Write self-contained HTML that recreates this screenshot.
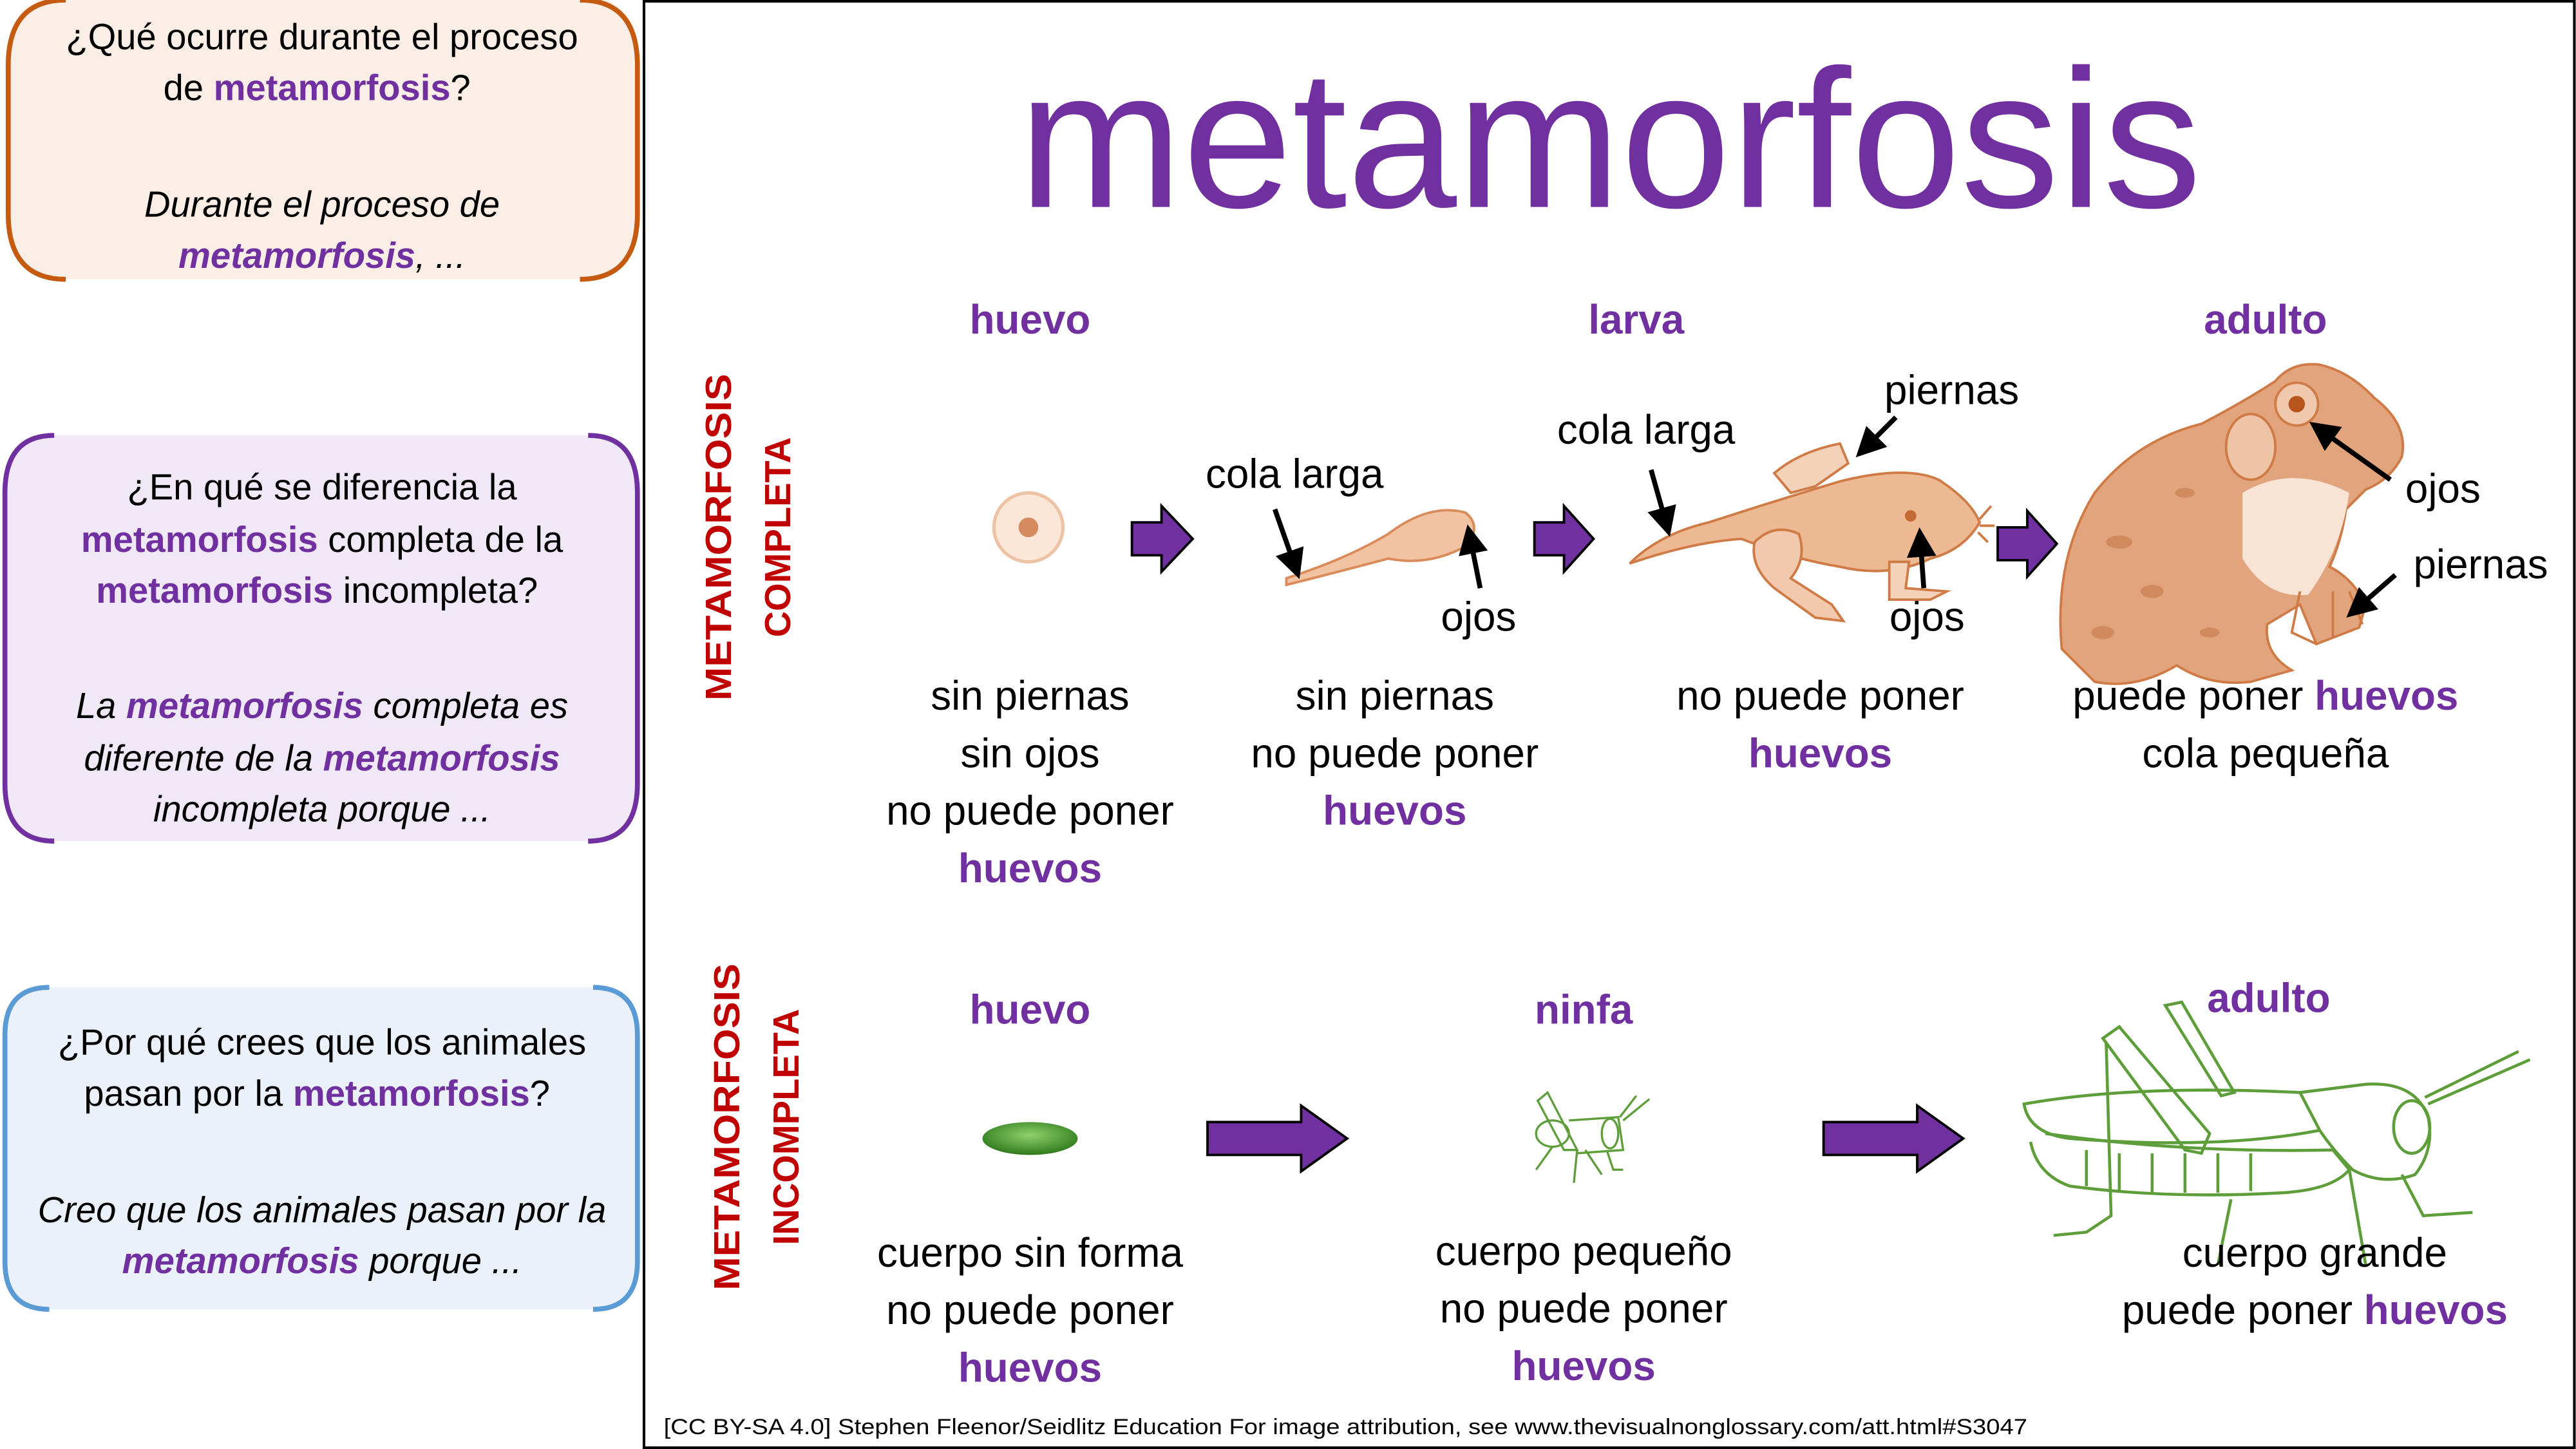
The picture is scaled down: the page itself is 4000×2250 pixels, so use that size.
<!DOCTYPE html>
<html><head><meta charset="utf-8">
<style>
html,body{margin:0;padding:0;background:#fff;}
svg{display:block;}
text{font-family:"Liberation Sans",sans-serif;}
.p{fill:#7030A0;font-weight:bold;}
</style></head>
<body>
<svg width="4000" height="2250" viewBox="0 0 1568 882" preserveAspectRatio="none" xmlns="http://www.w3.org/2000/svg">
<defs>
<marker id="ah" markerWidth="6" markerHeight="6" refX="3" refY="3" orient="auto" markerUnits="strokeWidth">
<path d="M0,0 L6,3 L0,6 z" fill="#000"/></marker>
<radialGradient id="eg" cx="50%" cy="40%" r="60%"><stop offset="0" stop-color="#8fd16a"/><stop offset="1" stop-color="#2f7a1e"/></radialGradient>
</defs>
<!-- left boxes -->
<rect x="5" y="-2" width="383" height="172" rx="30" fill="#FBEEE6"/>
<path d="M40,0 Q5,0 5,40 L5,130 Q5,170 40,170 M353,0 Q388,0 388,40 L388,130 Q388,170 353,170" fill="none" stroke="#C55A11" stroke-width="3"/>
<text font-size="22" text-anchor="middle"><tspan x="196" y="30">¿Qué ocurre durante el proceso</tspan><tspan x="196" y="61">de <tspan class="p">metamorfosis</tspan>?</tspan>
<tspan x="196" y="132" font-style="italic">Durante el proceso de</tspan><tspan x="196" y="163" font-style="italic"><tspan class="p">metamorfosis</tspan>, ...</tspan></text>

<rect x="3" y="265" width="385" height="247" rx="30" fill="#F0E8F6"/>
<path d="M33,265 Q3,265 3,300 L3,477 Q3,512 33,512 M358,265 Q388,265 388,300 L388,477 Q388,512 358,512" fill="none" stroke="#7030A0" stroke-width="3"/>
<text font-size="22" text-anchor="middle"><tspan x="196" y="304">¿En qué se diferencia la</tspan><tspan x="196" y="336"><tspan class="p">metamorfosis</tspan> completa de la</tspan><tspan x="196" y="367"><tspan class="p">metamorfosis</tspan> incompleta?</tspan>
<tspan x="196" y="437" font-style="italic">La <tspan class="p">metamorfosis</tspan> completa es</tspan><tspan x="196" y="469" font-style="italic">diferente de la <tspan class="p">metamorfosis</tspan></tspan><tspan x="196" y="500" font-style="italic">incompleta porque ...</tspan></text>

<rect x="3" y="601" width="385" height="196" rx="25" fill="#EAF1FA"/>
<path d="M30,601 Q3,601 3,630 L3,768 Q3,797 30,797 M361,601 Q388,601 388,630 L388,768 Q388,797 361,797" fill="none" stroke="#5B9BD5" stroke-width="3"/>
<text font-size="22" text-anchor="middle"><tspan x="196" y="642">¿Por qué crees que los animales</tspan><tspan x="196" y="673">pasan por la <tspan class="p">metamorfosis</tspan>?</tspan>
<tspan x="196" y="744" font-style="italic">Creo que los animales pasan por la</tspan><tspan x="196" y="775" font-style="italic"><tspan class="p">metamorfosis</tspan> porque ...</tspan></text>

<!-- main frame -->
<rect x="392" y="0.8" width="1175" height="880.4" fill="none" stroke="#000" stroke-width="1.6"/>
<text x="980" y="126" font-size="120" text-anchor="middle" fill="#7030A0">metamorfosis</text>

<!-- vertical labels -->
<text transform="translate(445,327) rotate(-90)" font-size="22" font-weight="bold" fill="#C00000" text-anchor="middle" textLength="199" lengthAdjust="spacingAndGlyphs">METAMORFOSIS</text>
<text transform="translate(481,327) rotate(-90)" font-size="22" font-weight="bold" fill="#C00000" text-anchor="middle">COMPLETA</text>
<text transform="translate(450,686) rotate(-90)" font-size="22" font-weight="bold" fill="#C00000" text-anchor="middle" textLength="199" lengthAdjust="spacingAndGlyphs">METAMORFOSIS</text>
<text transform="translate(486,686) rotate(-90)" font-size="22" font-weight="bold" fill="#C00000" text-anchor="middle">INCOMPLETA</text>

<!-- headings -->
<g font-size="25" text-anchor="middle">
<text x="627" y="203" class="p">huevo</text><text x="996" y="203" class="p">larva</text><text x="1379" y="203" class="p">adulto</text>
<text x="627" y="623" class="p">huevo</text><text x="964" y="623" class="p">ninfa</text><text x="1381" y="616" class="p">adulto</text>
</g>

<!-- purple arrows -->
<g fill="#7030A0" stroke="#000" stroke-width="1.5">
<path d="M689,318 L707,318 L707,308 L726,328 L707,348 L707,338 L689,338 z"/>
<path d="M934,318 L952,318 L952,308 L970,328 L952,348 L952,338 L934,338 z"/>
<path d="M1216,321 L1234,321 L1234,311 L1252,331 L1234,351 L1234,341 L1216,341 z"/>
<path d="M735,683 L792,683 L792,673 L820,693 L792,713 L792,703 L735,703 z"/>
<path d="M1110,683 L1167,683 L1167,673 L1195,693 L1167,713 L1167,703 L1110,703 z"/>
</g>

<!-- egg -->
<circle cx="626" cy="321" r="21" fill="#FCE6D8" stroke="#EEC2A4" stroke-width="2"/>
<circle cx="626" cy="321" r="6" fill="#D58A60"/>
<!-- tadpole -->
<path d="M783,352 Q820,340 845,325 Q870,306 892,312 Q902,320 893,332 Q870,345 845,340 Q815,348 783,356 z" fill="#F2C3A3" stroke="#D98B5A" stroke-width="1.5"/>
<!-- young frog -->
<g stroke="#D07A45" stroke-width="1.5" fill="#EDB993">
<path d="M1080,288 Q1095,275 1120,270 L1125,282 L1105,296 L1090,300 z" fill="#F4D2BA"/>
<path d="M992,343 Q1010,325 1040,318 Q1080,305 1120,293 Q1160,283 1180,292 Q1200,305 1205,318 Q1195,335 1175,340 Q1150,352 1120,345 Q1090,340 1060,328 Q1030,330 992,343 z"/>
<path d="M1068,330 Q1080,318 1095,325 Q1100,340 1090,352 L1115,368 L1122,378 L1105,376 L1080,358 Q1065,345 1068,330 z" fill="#F2C9AC"/>
<path d="M1150,342 L1150,365 L1175,365 L1185,360 L1160,358 L1162,342 z" fill="#F4D2BA"/>
<path d="M1205,316 L1212,308 M1205,320 L1214,320 M1204,324 L1210,330" fill="none"/>
</g>
<circle cx="1163" cy="314" r="3.5" fill="#C66A35"/>
<!-- adult toad -->
<g stroke="#D07A45" stroke-width="1.5">
<path d="M1255,395 Q1250,340 1275,300 Q1300,268 1340,258 Q1365,245 1385,232 Q1395,220 1412,222 Q1430,226 1445,242 Q1466,258 1462,278 Q1455,292 1440,298 L1428,310 Q1425,330 1418,345 Q1432,352 1440,368 L1436,382 L1410,392 L1400,368 L1380,380 Q1378,398 1395,408 L1370,415 Q1345,418 1325,405 Q1300,420 1275,415 z" fill="#E2A47D"/>
<path d="M1365,300 Q1395,282 1430,300 Q1425,335 1405,362 Q1380,365 1365,340 z" fill="#F8E3D5" stroke="none"/>
<path d="M1400,360 L1395,385 L1410,392 M1420,360 L1420,388 M1430,360 L1438,380" fill="none"/>
<ellipse cx="1370" cy="272" rx="15" ry="20" fill="#EFC3A5"/>
<circle cx="1398" cy="246" r="13" fill="#F0C8AD"/>
</g>
<circle cx="1398" cy="246" r="5" fill="#B8541E"/>
<g fill="#D08A5E"><ellipse cx="1290" cy="330" rx="8" ry="4"/><ellipse cx="1310" cy="360" rx="7" ry="4"/><ellipse cx="1330" cy="300" rx="6" ry="3"/><ellipse cx="1280" cy="385" rx="7" ry="4"/><ellipse cx="1345" cy="385" rx="6" ry="3"/></g>

<!-- green egg -->
<ellipse cx="627" cy="693" rx="29" ry="10" fill="url(#eg)"/>
<!-- nymph -->
<g fill="none" stroke="#5E9E3A" stroke-width="1.3">
<path d="M936,670 L942,665 L960,700 L952,700 z"/>
<ellipse cx="945" cy="690" rx="10" ry="8"/>
<path d="M955,682 L985,680 L988,700 L960,702"/>
<ellipse cx="980" cy="690" rx="5" ry="9"/>
<path d="M988,682 L1004,669 M986,680 L996,667 M945,698 L935,712 M960,700 L958,720 M978,700 L982,712 L988,712 M965,700 L975,715"/>
</g>
<!-- adult grasshopper -->
<g fill="none" stroke="#5E9E3A" stroke-width="1.8">
<path d="M1232,672 Q1300,660 1400,665 L1412,688 Q1350,700 1260,693 Q1235,690 1232,672 z"/>
<path d="M1236,695 Q1240,715 1260,722 Q1320,730 1390,726 Q1420,724 1430,712 L1420,700 Q1330,702 1245,690"/>
<path d="M1270,700 L1270,722 M1290,702 L1290,725 M1310,702 L1310,726 M1330,702 L1330,726 M1350,702 L1350,726 M1370,702 L1370,725"/>
<path d="M1400,665 L1440,660 Q1470,658 1478,680 Q1482,700 1470,715 Q1450,722 1432,712 Q1420,700 1412,688"/>
<ellipse cx="1468" cy="686" rx="11" ry="16"/>
<path d="M1476,668 L1533,640 M1478,672 L1540,645"/>
<path d="M1280,632 L1290,625 L1345,690 L1340,702 L1330,700 Z"/>
<path d="M1282,634 L1285,740 L1270,750 L1250,752"/>
<path d="M1318,612 L1328,610 L1360,665 L1352,667 Z"/>
<path d="M1358,730 L1350,770 M1462,715 L1475,740 L1505,738 M1430,712 L1440,770"/>
</g>

<!-- black pointer arrows -->
<g stroke="#000" stroke-width="3" marker-end="url(#ah)">
<line x1="776" y1="310" x2="788" y2="344"/>
<line x1="901" y1="358" x2="895" y2="328"/>
<line x1="1005" y1="286" x2="1014" y2="318"/>
<line x1="1154" y1="254" x2="1136" y2="272"/>
<line x1="1171" y1="358" x2="1169" y2="330"/>
<line x1="1455" y1="292" x2="1413" y2="262"/>
<line x1="1458" y1="350" x2="1435" y2="370"/>
</g>

<!-- labels -->
<g font-size="25" text-anchor="middle" fill="#000">
<text x="788" y="297">cola larga</text>
<text x="900" y="384">ojos</text>
<text x="1002" y="270">cola larga</text>
<text x="1188" y="246">piernas</text>
<text x="1173" y="384">ojos</text>
<text x="1487" y="306">ojos</text>
<text x="1510" y="352">piernas</text>

<text x="627" y="432">sin piernas</text><text x="627" y="467">sin ojos</text><text x="627" y="502">no puede poner</text><text x="627" y="537" class="p">huevos</text>
<text x="849" y="432">sin piernas</text><text x="849" y="467">no puede poner</text><text x="849" y="502" class="p">huevos</text>
<text x="1108" y="432">no puede poner</text><text x="1108" y="467" class="p">huevos</text>
<text x="1379" y="432">puede poner <tspan class="p">huevos</tspan></text><text x="1379" y="467">cola pequeña</text>

<text x="627" y="771">cuerpo sin forma</text><text x="627" y="806">no puede poner</text><text x="627" y="841" class="p">huevos</text>
<text x="964" y="770">cuerpo pequeño</text><text x="964" y="805">no puede poner</text><text x="964" y="840" class="p">huevos</text>
<text x="1409" y="771">cuerpo grande</text><text x="1409" y="806">puede poner <tspan class="p">huevos</tspan></text>
</g>
<text x="404" y="873" font-size="13.5" fill="#000" textLength="830" lengthAdjust="spacingAndGlyphs">[CC BY-SA 4.0] Stephen Fleenor/Seidlitz Education For image attribution, see www.thevisualnonglossary.com/att.html#S3047</text>
</svg>
</body></html>
